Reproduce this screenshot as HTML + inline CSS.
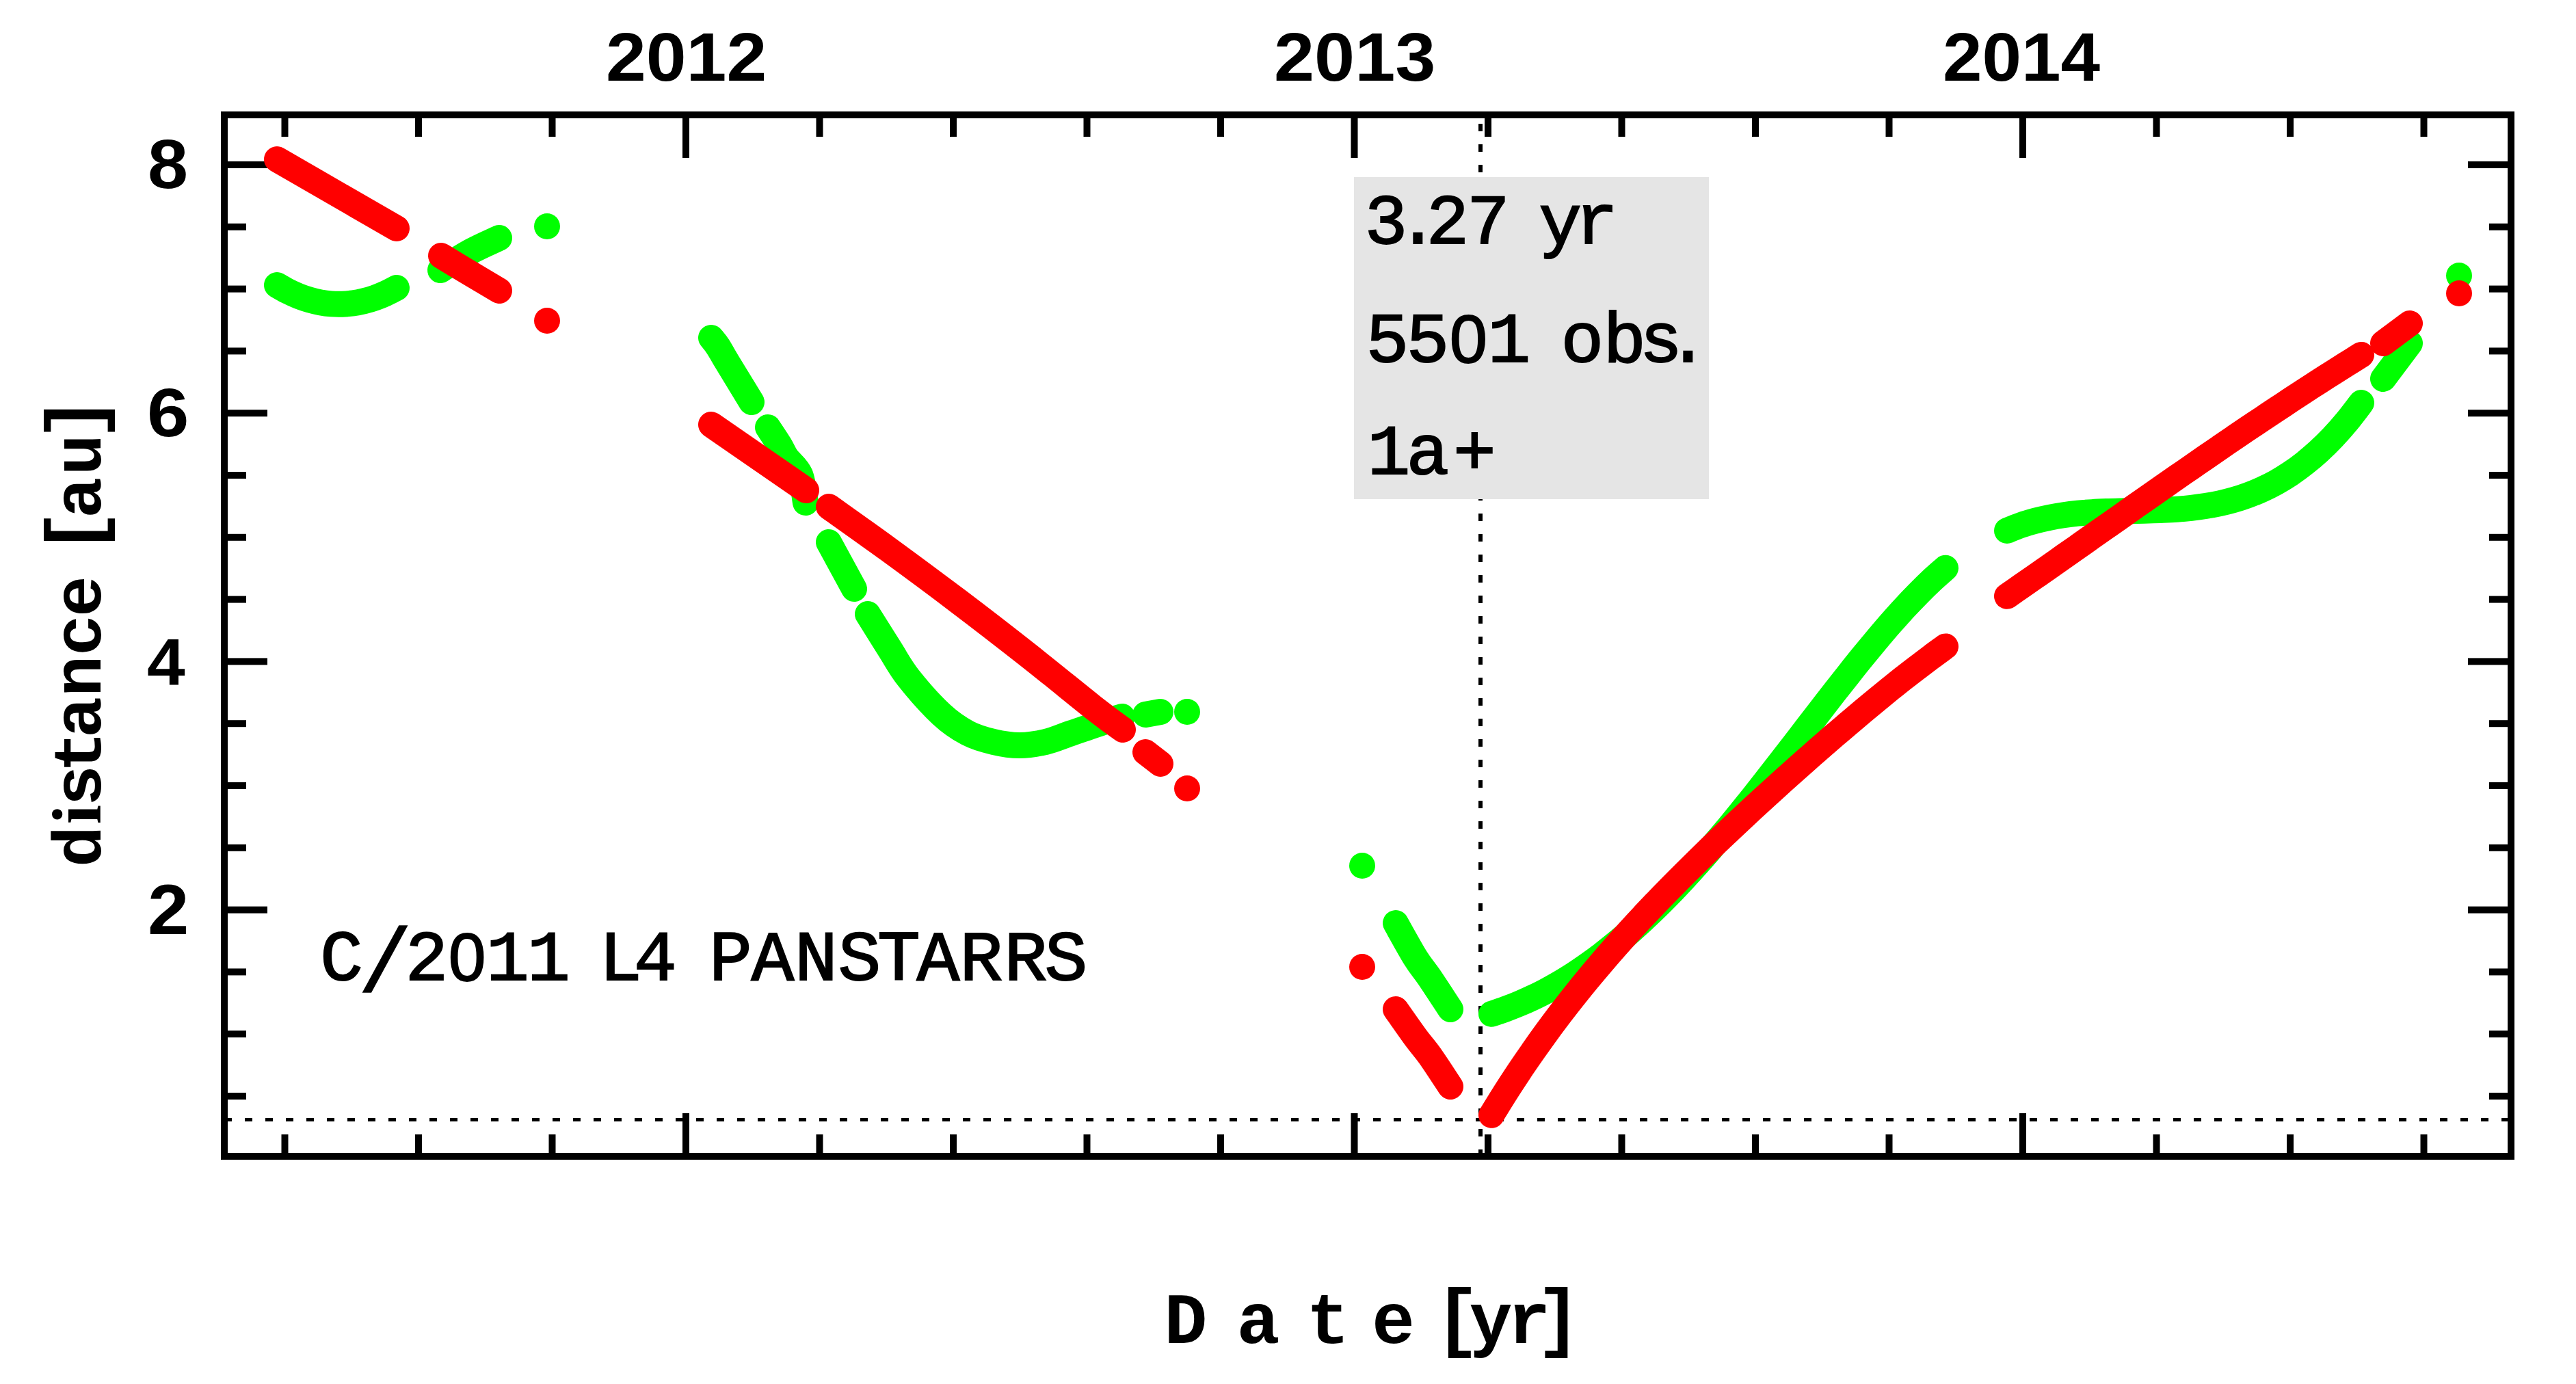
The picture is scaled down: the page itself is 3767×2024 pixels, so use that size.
<!DOCTYPE html>
<html><head><meta charset="utf-8"><style>html,body{margin:0;padding:0;background:#fff;overflow:hidden}svg{display:block}</style></head>
<body><svg width="3767" height="2024" viewBox="0 0 3767 2024"><rect width="100%" height="100%" fill="#fff"/><rect x="328" y="168" width="3344" height="1523" fill="none" stroke="#000" stroke-width="10"/><rect x="411.5" y="173" width="10" height="27" fill="#000"/><rect x="411.5" y="1659" width="10" height="27" fill="#000"/><rect x="607.0" y="173" width="10" height="27" fill="#000"/><rect x="607.0" y="1659" width="10" height="27" fill="#000"/><rect x="802.5" y="173" width="10" height="27" fill="#000"/><rect x="802.5" y="1659" width="10" height="27" fill="#000"/><rect x="998.0" y="173" width="10" height="58" fill="#000"/><rect x="998.0" y="1628" width="10" height="58" fill="#000"/><rect x="1193.5" y="173" width="10" height="27" fill="#000"/><rect x="1193.5" y="1659" width="10" height="27" fill="#000"/><rect x="1389.0" y="173" width="10" height="27" fill="#000"/><rect x="1389.0" y="1659" width="10" height="27" fill="#000"/><rect x="1584.5" y="173" width="10" height="27" fill="#000"/><rect x="1584.5" y="1659" width="10" height="27" fill="#000"/><rect x="1780.0" y="173" width="10" height="27" fill="#000"/><rect x="1780.0" y="1659" width="10" height="27" fill="#000"/><rect x="1975.5" y="173" width="10" height="58" fill="#000"/><rect x="1975.5" y="1628" width="10" height="58" fill="#000"/><rect x="2171.0" y="173" width="10" height="27" fill="#000"/><rect x="2171.0" y="1659" width="10" height="27" fill="#000"/><rect x="2366.5" y="173" width="10" height="27" fill="#000"/><rect x="2366.5" y="1659" width="10" height="27" fill="#000"/><rect x="2562.0" y="173" width="10" height="27" fill="#000"/><rect x="2562.0" y="1659" width="10" height="27" fill="#000"/><rect x="2757.5" y="173" width="10" height="27" fill="#000"/><rect x="2757.5" y="1659" width="10" height="27" fill="#000"/><rect x="2953.0" y="173" width="10" height="58" fill="#000"/><rect x="2953.0" y="1628" width="10" height="58" fill="#000"/><rect x="3148.5" y="173" width="10" height="27" fill="#000"/><rect x="3148.5" y="1659" width="10" height="27" fill="#000"/><rect x="3344.0" y="173" width="10" height="27" fill="#000"/><rect x="3344.0" y="1659" width="10" height="27" fill="#000"/><rect x="3539.5" y="173" width="10" height="27" fill="#000"/><rect x="3539.5" y="1659" width="10" height="27" fill="#000"/><rect x="333" y="1598.0" width="27" height="10" fill="#000"/><rect x="3640" y="1598.0" width="27" height="10" fill="#000"/><rect x="333" y="1507.2" width="27" height="10" fill="#000"/><rect x="3640" y="1507.2" width="27" height="10" fill="#000"/><rect x="333" y="1416.4" width="27" height="10" fill="#000"/><rect x="3640" y="1416.4" width="27" height="10" fill="#000"/><rect x="333" y="1325.6" width="58" height="10" fill="#000"/><rect x="3609" y="1325.6" width="58" height="10" fill="#000"/><rect x="333" y="1234.8" width="27" height="10" fill="#000"/><rect x="3640" y="1234.8" width="27" height="10" fill="#000"/><rect x="333" y="1144.0" width="27" height="10" fill="#000"/><rect x="3640" y="1144.0" width="27" height="10" fill="#000"/><rect x="333" y="1053.2" width="27" height="10" fill="#000"/><rect x="3640" y="1053.2" width="27" height="10" fill="#000"/><rect x="333" y="962.4" width="58" height="10" fill="#000"/><rect x="3609" y="962.4" width="58" height="10" fill="#000"/><rect x="333" y="871.6" width="27" height="10" fill="#000"/><rect x="3640" y="871.6" width="27" height="10" fill="#000"/><rect x="333" y="780.8" width="27" height="10" fill="#000"/><rect x="3640" y="780.8" width="27" height="10" fill="#000"/><rect x="333" y="690.0" width="27" height="10" fill="#000"/><rect x="3640" y="690.0" width="27" height="10" fill="#000"/><rect x="333" y="599.2" width="58" height="10" fill="#000"/><rect x="3609" y="599.2" width="58" height="10" fill="#000"/><rect x="333" y="508.4" width="27" height="10" fill="#000"/><rect x="3640" y="508.4" width="27" height="10" fill="#000"/><rect x="333" y="417.6" width="27" height="10" fill="#000"/><rect x="3640" y="417.6" width="27" height="10" fill="#000"/><rect x="333" y="326.8" width="27" height="10" fill="#000"/><rect x="3640" y="326.8" width="27" height="10" fill="#000"/><rect x="333" y="236.0" width="58" height="10" fill="#000"/><rect x="3609" y="236.0" width="58" height="10" fill="#000"/><line x1="333" y1="1637.5" x2="3667" y2="1637.5" stroke="#000" stroke-width="5" stroke-dasharray="11 19" stroke-dashoffset="5"/><line x1="2165" y1="173" x2="2165" y2="1686" stroke="#000" stroke-width="6" stroke-dasharray="11 19" stroke-dashoffset="-8"/><path d="M405.0,417.0 C407.6,418.5 415.6,423.2 420.9,425.9 C426.2,428.6 431.5,431.0 436.8,433.1 C442.1,435.2 447.4,437.0 452.7,438.5 C458.0,440.0 463.3,441.3 468.6,442.3 C473.9,443.3 479.2,444.0 484.5,444.4 C489.8,444.8 495.2,444.9 500.5,444.7 C505.8,444.5 511.1,444.1 516.4,443.4 C521.7,442.7 527.0,441.6 532.3,440.3 C537.6,439.0 542.9,437.5 548.2,435.6 C553.5,433.7 558.8,431.5 564.1,429.1 C569.4,426.7 577.4,422.4 580.0,421.0" fill="none" stroke="#00ff00" stroke-width="38" stroke-linecap="round" stroke-linejoin="round"/><path d="M644,395 C651.3,390.5 673.7,375.8 688,368 C702.3,360.2 723.0,351.3 730,348" fill="none" stroke="#00ff00" stroke-width="38" stroke-linecap="round" stroke-linejoin="round"/><circle cx="800" cy="331" r="19" fill="#00ff00"/><path d="M1040,494 C1041.7,496.2 1046.2,501.2 1050,507 C1053.8,512.8 1054.8,515.5 1063,529 C1071.2,542.5 1093.0,578.2 1099,588" fill="none" stroke="#00ff00" stroke-width="38" stroke-linecap="round" stroke-linejoin="round"/><path d="M1123,625 C1125.8,629.3 1135.5,643.7 1140,651 C1144.5,658.3 1145.0,661.8 1150,669 C1155.0,676.2 1165.3,683.0 1170,694 C1174.7,705.0 1176.7,728.2 1178,735" fill="none" stroke="#00ff00" stroke-width="38" stroke-linecap="round" stroke-linejoin="round"/><path d="M1212,793 L1249,861" fill="none" stroke="#00ff00" stroke-width="38" stroke-linecap="round" stroke-linejoin="round"/><path d="M1269,898 C1274.3,906.5 1291.0,933.3 1301,949 C1311.0,964.7 1316.3,976.0 1329,992 C1341.7,1008.0 1362.7,1031.7 1377,1045 C1391.3,1058.3 1402.3,1065.3 1415,1072 C1427.7,1078.7 1440.3,1082.0 1453,1085 C1465.7,1088.0 1478.3,1090.0 1491,1090 C1503.7,1090.0 1516.3,1088.0 1529,1085 C1541.7,1082.0 1552.3,1077.0 1567,1072 C1581.7,1067.0 1604.7,1059.0 1617,1055 C1629.3,1051.0 1637.0,1049.2 1641,1048" fill="none" stroke="#00ff00" stroke-width="38" stroke-linecap="round" stroke-linejoin="round"/><path d="M1675,1045 L1697,1041" fill="none" stroke="#00ff00" stroke-width="38" stroke-linecap="round" stroke-linejoin="round"/><circle cx="1736" cy="1041" r="19" fill="#00ff00"/><circle cx="1992" cy="1266" r="19" fill="#00ff00"/><path d="M2041,1350 C2045.8,1358.5 2061.8,1387.8 2070,1401 C2078.2,1414.2 2081.5,1416.5 2090,1429 C2098.5,1441.5 2115.8,1468.2 2121,1476" fill="none" stroke="#00ff00" stroke-width="38" stroke-linecap="round" stroke-linejoin="round"/><path d="M2181.0,1482.8 C2184.3,1481.7 2194.4,1478.4 2201.1,1475.9 C2207.8,1473.4 2214.5,1470.8 2221.2,1468.0 C2227.9,1465.2 2234.7,1462.2 2241.4,1459.0 C2248.1,1455.8 2254.8,1452.5 2261.5,1448.9 C2268.2,1445.3 2274.9,1441.5 2281.6,1437.6 C2288.3,1433.6 2295.0,1429.5 2301.7,1425.2 C2308.4,1420.9 2315.1,1416.2 2321.8,1411.5 C2328.5,1406.8 2335.3,1401.9 2342.0,1396.8 C2348.7,1391.7 2355.4,1386.3 2362.1,1380.8 C2368.8,1375.3 2375.5,1369.7 2382.2,1363.8 C2388.9,1357.9 2395.6,1351.8 2402.3,1345.6 C2409.0,1339.3 2415.8,1332.9 2422.5,1326.3 C2429.2,1319.7 2435.9,1312.9 2442.6,1306.0 C2449.3,1299.1 2456.0,1291.9 2462.7,1284.7 C2469.4,1277.5 2476.1,1270.1 2482.8,1262.6 C2489.5,1255.1 2496.2,1247.3 2502.9,1239.5 C2509.6,1231.7 2516.4,1223.8 2523.1,1215.8 C2529.8,1207.8 2536.5,1199.5 2543.2,1191.3 C2549.9,1183.0 2556.6,1174.7 2563.3,1166.3 C2570.0,1157.9 2576.7,1149.4 2583.4,1140.8 C2590.1,1132.2 2596.8,1123.6 2603.5,1114.9 C2610.2,1106.2 2617.0,1097.5 2623.7,1088.8 C2630.4,1080.1 2637.1,1071.3 2643.8,1062.6 C2650.5,1053.9 2657.2,1045.2 2663.9,1036.5 C2670.6,1027.8 2677.3,1019.1 2684.0,1010.5 C2690.7,1001.9 2697.5,993.4 2704.2,984.9 C2710.9,976.4 2717.6,968.0 2724.3,959.8 C2731.0,951.6 2737.7,943.5 2744.4,935.5 C2751.1,927.5 2757.8,919.6 2764.5,911.9 C2771.2,904.2 2777.9,896.8 2784.6,889.5 C2791.3,882.2 2798.1,875.1 2804.8,868.3 C2811.5,861.5 2818.2,854.9 2824.9,848.6 C2831.6,842.3 2841.7,833.7 2845.0,830.7" fill="none" stroke="#00ff00" stroke-width="38" stroke-linecap="round" stroke-linejoin="round"/><path d="M2935.0,776.0 C2938.4,774.6 2948.8,770.3 2955.7,767.9 C2962.6,765.5 2969.5,763.5 2976.4,761.6 C2983.3,759.8 2990.3,758.2 2997.2,756.8 C3004.1,755.4 3011.0,754.2 3017.9,753.2 C3024.8,752.2 3031.7,751.4 3038.6,750.7 C3045.5,750.0 3052.4,749.5 3059.3,749.1 C3066.2,748.7 3073.1,748.4 3080.0,748.1 C3086.9,747.8 3093.9,747.6 3100.8,747.4 C3107.7,747.2 3114.6,747.1 3121.5,747.0 C3128.4,746.9 3135.3,746.7 3142.2,746.5 C3149.1,746.3 3156.0,746.1 3162.9,745.8 C3169.8,745.5 3176.7,745.2 3183.6,744.7 C3190.5,744.2 3197.5,743.6 3204.4,742.8 C3211.3,742.0 3218.2,741.1 3225.1,740.0 C3232.0,738.9 3238.9,737.7 3245.8,736.2 C3252.7,734.7 3259.6,733.0 3266.5,731.0 C3273.4,729.0 3280.3,726.8 3287.2,724.2 C3294.1,721.7 3301.1,718.9 3308.0,715.7 C3314.9,712.6 3321.8,709.1 3328.7,705.3 C3335.6,701.4 3342.5,697.2 3349.4,692.6 C3356.3,688.0 3363.2,683.0 3370.1,677.5 C3377.0,672.0 3383.9,666.2 3390.8,659.9 C3397.7,653.5 3404.7,646.7 3411.6,639.4 C3418.5,632.1 3425.4,624.3 3432.3,615.9 C3439.2,607.5 3449.6,593.6 3453.0,589.1" fill="none" stroke="#00ff00" stroke-width="38" stroke-linecap="round" stroke-linejoin="round"/><path d="M3485,554 L3524,502" fill="none" stroke="#00ff00" stroke-width="38" stroke-linecap="round" stroke-linejoin="round"/><circle cx="3596" cy="403" r="19" fill="#00ff00"/><path d="M405,233 L580,334" fill="none" stroke="#ff0000" stroke-width="38" stroke-linecap="round" stroke-linejoin="round"/><path d="M645,374 C652.2,378.3 673.8,391.5 688,400 C702.2,408.5 723.0,420.8 730,425" fill="none" stroke="#ff0000" stroke-width="38" stroke-linecap="round" stroke-linejoin="round"/><circle cx="800" cy="469" r="19" fill="#ff0000"/><path d="M1040,621 L1179,717" fill="none" stroke="#ff0000" stroke-width="38" stroke-linecap="round" stroke-linejoin="round"/><path d="M1212,741 C1226.7,751.5 1268.5,781.0 1300,804 C1331.5,827.0 1367.3,853.5 1401,879 C1434.7,904.5 1468.3,930.5 1502,957 C1535.7,983.5 1579.7,1019.7 1603,1038 C1626.3,1056.3 1635.5,1062.2 1642,1067" fill="none" stroke="#ff0000" stroke-width="38" stroke-linecap="round" stroke-linejoin="round"/><path d="M1675,1100 L1697,1117" fill="none" stroke="#ff0000" stroke-width="38" stroke-linecap="round" stroke-linejoin="round"/><circle cx="1736" cy="1153" r="19" fill="#ff0000"/><circle cx="1992" cy="1414" r="19" fill="#ff0000"/><path d="M2041,1476 C2045.8,1482.8 2061.7,1505.7 2070,1517 C2078.3,1528.3 2082.5,1532.0 2091,1544 C2099.5,1556.0 2116.0,1581.5 2121,1589" fill="none" stroke="#ff0000" stroke-width="38" stroke-linecap="round" stroke-linejoin="round"/><path d="M2181.0,1630.8 C2184.3,1625.4 2194.4,1608.9 2201.1,1598.3 C2207.8,1587.7 2214.5,1577.5 2221.2,1567.4 C2227.9,1557.4 2234.7,1547.6 2241.4,1538.0 C2248.1,1528.4 2254.8,1519.0 2261.5,1509.8 C2268.2,1500.6 2274.9,1491.6 2281.6,1482.8 C2288.3,1474.0 2295.0,1465.5 2301.7,1457.0 C2308.4,1448.5 2315.1,1440.2 2321.8,1432.1 C2328.5,1423.9 2335.3,1416.0 2342.0,1408.1 C2348.7,1400.2 2355.4,1392.5 2362.1,1384.9 C2368.8,1377.3 2375.5,1369.8 2382.2,1362.4 C2388.9,1355.0 2395.6,1347.8 2402.3,1340.6 C2409.0,1333.4 2415.8,1326.3 2422.5,1319.3 C2429.2,1312.3 2435.9,1305.4 2442.6,1298.6 C2449.3,1291.8 2456.0,1285.0 2462.7,1278.3 C2469.4,1271.6 2476.1,1265.0 2482.8,1258.4 C2489.5,1251.8 2496.2,1245.3 2502.9,1238.8 C2509.6,1232.3 2516.4,1226.0 2523.1,1219.6 C2529.8,1213.2 2536.5,1206.9 2543.2,1200.6 C2549.9,1194.3 2556.6,1188.1 2563.3,1181.9 C2570.0,1175.7 2576.7,1169.6 2583.4,1163.5 C2590.1,1157.4 2596.8,1151.3 2603.5,1145.2 C2610.2,1139.1 2617.0,1133.1 2623.7,1127.1 C2630.4,1121.1 2637.1,1115.2 2643.8,1109.3 C2650.5,1103.4 2657.2,1097.4 2663.9,1091.6 C2670.6,1085.8 2677.3,1080.0 2684.0,1074.2 C2690.7,1068.4 2697.5,1062.7 2704.2,1057.0 C2710.9,1051.3 2717.6,1045.6 2724.3,1040.0 C2731.0,1034.4 2737.7,1028.8 2744.4,1023.3 C2751.1,1017.8 2757.8,1012.3 2764.5,1006.9 C2771.2,1001.5 2777.9,996.2 2784.6,990.9 C2791.3,985.6 2798.1,980.4 2804.8,975.3 C2811.5,970.2 2818.2,965.1 2824.9,960.1 C2831.6,955.1 2841.7,947.9 2845.0,945.4" fill="none" stroke="#ff0000" stroke-width="38" stroke-linecap="round" stroke-linejoin="round"/><path d="M2935.0,871.8 C2938.4,869.4 2948.8,862.2 2955.7,857.4 C2962.6,852.6 2969.5,847.8 2976.4,843.0 C2983.3,838.2 2990.3,833.4 2997.2,828.5 C3004.1,823.6 3011.0,818.8 3017.9,813.9 C3024.8,809.0 3031.7,804.2 3038.6,799.4 C3045.5,794.5 3052.4,789.7 3059.3,784.8 C3066.2,779.9 3073.1,775.1 3080.0,770.2 C3086.9,765.4 3093.9,760.6 3100.8,755.7 C3107.7,750.9 3114.6,746.0 3121.5,741.1 C3128.4,736.2 3135.3,731.4 3142.2,726.6 C3149.1,721.8 3156.0,716.9 3162.9,712.1 C3169.8,707.3 3176.7,702.5 3183.6,697.7 C3190.5,692.9 3197.5,688.1 3204.4,683.3 C3211.3,678.5 3218.2,673.8 3225.1,669.0 C3232.0,664.2 3238.9,659.5 3245.8,654.8 C3252.7,650.1 3259.6,645.3 3266.5,640.6 C3273.4,635.9 3280.3,631.2 3287.2,626.6 C3294.1,622.0 3301.1,617.3 3308.0,612.7 C3314.9,608.1 3321.8,603.5 3328.7,598.9 C3335.6,594.3 3342.5,589.8 3349.4,585.2 C3356.3,580.7 3363.2,576.1 3370.1,571.6 C3377.0,567.1 3383.9,562.7 3390.8,558.2 C3397.7,553.8 3404.7,549.3 3411.6,544.9 C3418.5,540.5 3425.4,536.2 3432.3,531.9 C3439.2,527.6 3449.6,521.1 3453.0,518.9" fill="none" stroke="#ff0000" stroke-width="38" stroke-linecap="round" stroke-linejoin="round"/><path d="M3485,502 L3524,473" fill="none" stroke="#ff0000" stroke-width="38" stroke-linecap="round" stroke-linejoin="round"/><circle cx="3596" cy="429" r="19" fill="#ff0000"/><rect x="1980" y="259" width="519" height="471" fill="#e5e5e5"/><text x="886.0" y="118.0" font-family="Liberation Sans" font-weight="bold" font-size="100.2" textLength="235.2" lengthAdjust="spacingAndGlyphs">2012</text><text x="1863.0" y="118.0" font-family="Liberation Sans" font-weight="bold" font-size="100.2" textLength="236.3" lengthAdjust="spacingAndGlyphs">2013</text><text x="2841.0" y="118.0" font-family="Liberation Sans" font-weight="bold" font-size="100.2" textLength="230.1" lengthAdjust="spacingAndGlyphs">2014</text><text x="216.0" y="275.0" font-family="Liberation Sans" font-weight="bold" font-size="101.6" textLength="59.0" lengthAdjust="spacingAndGlyphs">8</text><text x="215.0" y="638.0" font-family="Liberation Sans" font-weight="bold" font-size="100.2" textLength="61.4" lengthAdjust="spacingAndGlyphs">6</text><text x="215.0" y="1002.0" font-family="Liberation Sans" font-weight="bold" font-size="95.7" textLength="55.7" lengthAdjust="spacingAndGlyphs">4</text><text x="216.0" y="1366.0" font-family="Liberation Sans" font-weight="bold" font-size="104.4" textLength="60.3" lengthAdjust="spacingAndGlyphs">2</text><text text-anchor="middle" xml:space="preserve" font-family="Liberation Mono, monospace" font-size="104.7" stroke="#000" stroke-width="2"><tspan x="499.5" y="1433">C</tspan><tspan x="563.0" y="1450" font-size="132" stroke-width="1.5">/</tspan><tspan x="624.0" y="1433">2</tspan><tspan x="683.0" y="1434" font-family="Liberation Sans, sans-serif" font-size="97.5">0</tspan><tspan x="742.5 802.5 855.0 907.5 958.5 1013.0 1068.5 1130.0 1193.5 1257.0 1314.5 1372.0 1435.0 1500.0 1559.0" y="1433">11 L4 PANSTARRS</tspan></text><text text-anchor="middle" xml:space="preserve" font-family="Liberation Mono, monospace" font-size="104.6" stroke="#000" stroke-width="2"><tspan x="2027.0 2073.5 2117.0 2176.5 2229.0 2281.7 2335.0" y="356">3.27 yr</tspan></text><text text-anchor="middle" xml:space="preserve" font-family="Liberation Mono, monospace" font-size="104.6" stroke="#000" stroke-width="2"><tspan x="2029.0 2088.0" y="529">55</tspan><tspan x="2147.5" y="530" font-family="Liberation Sans, sans-serif" font-size="98.5">0</tspan><tspan x="2207.0 2260.0 2314.0 2375.6 2429.0 2468.5" y="529">1 obs.</tspan></text><text text-anchor="middle" xml:space="preserve" font-family="Liberation Mono, monospace" font-size="104.6" stroke="#000" stroke-width="2"><tspan x="2031.0 2088.0 2156.5" y="693">1a+</tspan></text><text text-anchor="middle" xml:space="preserve" font-family="Liberation Mono, monospace" font-weight="bold" font-size="105"><tspan x="1734.0 1787.0 1840.0 1891.0 1942.0 1990.0 2037.5 2084.0" y="1964">D a t e </tspan><tspan x="2131.0" y="1963" font-size="112">[</tspan><tspan x="2180.0 2236.0" y="1964">yr</tspan><tspan x="2279.0" y="1963" font-size="112">]</tspan></text><text text-anchor="middle" xml:space="preserve" font-family="Liberation Mono, monospace" font-weight="bold" font-size="100" transform="rotate(-90)"><tspan x="-1238.0" y="147">d</tspan><tspan x="-1191.0" y="147" font-family="Liberation Serif, serif" font-size="102">i</tspan><tspan x="-1149.0 -1099.5 -1049.0 -989.0 -929.0 -872.0 -825.0" y="147">stance </tspan><tspan x="-778.0" y="145" font-size="112">[</tspan><tspan x="-728.0 -665.0" y="147">au</tspan><tspan x="-612.0" y="145" font-size="112">]</tspan></text></svg></body></html>
